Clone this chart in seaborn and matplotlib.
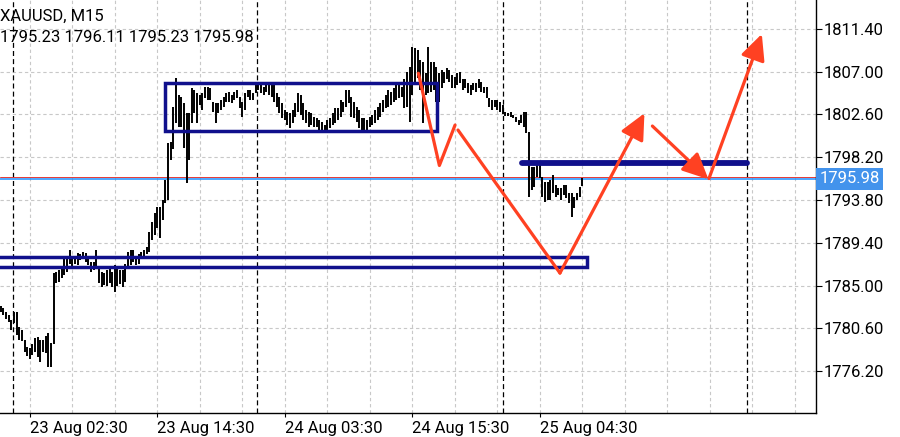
import numpy as np
import matplotlib
matplotlib.use("Agg")
import matplotlib.pyplot as plt
from matplotlib.patches import Rectangle
import seaborn as sns

# ---- data: XAUUSD M15 bars (high / low per bar) ----
highs = [
    1782.9, 1782.7, 1782.3, 1782.0, 1781.5, 1782.3, 1782.3, 1780.7, 1780.4, 1779.4,
    1778.7, 1778.6, 1779.0, 1779.6, 1779.7, 1779.4, 1779.4, 1779.8, 1780.1, 1779.1,
    1786.3, 1786.4, 1786.6, 1786.8, 1787.8, 1787.8, 1788.7, 1787.7, 1787.8, 1788.3,
    1788.2, 1788.4, 1788.3, 1788.0, 1787.4, 1787.4, 1788.7, 1787.0, 1786.4, 1786.3,
    1786.6, 1786.8, 1786.4, 1787.1, 1786.8, 1786.6, 1786.6, 1787.2, 1788.4, 1788.7,
    1788.7, 1788.0, 1788.2, 1788.4, 1788.7, 1789.0, 1790.5, 1791.5, 1792.5, 1793.1,
    1793.1, 1793.8, 1795.9, 1799.7, 1799.8, 1803.4, 1806.4, 1804.6, 1804.4, 1803.8,
    1802.8, 1802.8, 1805.3, 1805.1, 1804.8, 1804.6, 1804.8, 1805.4, 1805.4, 1805.3,
    1803.9, 1803.8, 1803.8, 1804.1, 1804.4, 1804.8, 1804.9, 1804.6, 1804.9, 1805.1,
    1804.4, 1803.9, 1804.8, 1805.1, 1805.1, 1804.8, 1805.6, 1805.8, 1805.8, 1805.4,
    1805.6, 1805.6, 1805.6, 1805.6, 1804.8, 1804.4, 1803.8, 1803.1, 1802.9, 1802.8,
    1803.1, 1803.8, 1804.8, 1804.6, 1803.8, 1803.1, 1802.9, 1802.8, 1802.3, 1802.2,
    1802.0, 1801.8, 1801.5, 1802.0, 1802.2, 1802.8, 1803.3, 1803.3, 1804.1, 1803.9,
    1805.1, 1805.1, 1804.4, 1803.9, 1803.4, 1803.1, 1802.2, 1802.2, 1802.0, 1802.3,
    1802.5, 1803.1, 1803.4, 1803.8, 1804.1, 1804.6, 1805.1, 1804.9, 1805.3, 1805.6,
    1805.8, 1805.4, 1806.2, 1807.0, 1807.5, 1809.5, 1809.4, 1809.2, 1808.2, 1808.0,
    1806.9, 1809.5, 1808.0, 1808.0, 1807.5, 1806.9, 1807.2, 1807.0, 1807.4, 1807.2,
    1806.7, 1806.5, 1806.9, 1807.0, 1806.3, 1806.2, 1805.8, 1805.6, 1805.8, 1805.8,
    1806.3, 1805.9, 1805.4, 1805.4, 1804.3, 1804.1, 1804.1, 1804.1, 1803.9, 1803.6,
    1802.9, 1802.8, 1802.9, 1802.5, 1802.3, 1802.0, 1802.5, 1802.9, 1802.9, 1800.8,
    1797.2, 1797.2, 1797.6, 1797.4, 1796.2, 1795.6, 1795.6, 1795.9, 1796.4, 1795.3,
    1795.0, 1795.0, 1795.3, 1795.3, 1794.5, 1794.5, 1794.1, 1794.5, 1795.1, 1796.11,
]
lows = [
    1782.3, 1782.0, 1781.6, 1781.2, 1780.4, 1781.1, 1779.9, 1779.4, 1779.3, 1778.2,
    1777.7, 1777.4, 1777.8, 1778.2, 1777.6, 1777.1, 1778.2, 1778.1, 1776.6, 1776.6,
    1779.0, 1785.3, 1785.4, 1785.8, 1786.1, 1786.4, 1787.2, 1787.0, 1787.2, 1787.1,
    1787.6, 1787.8, 1787.4, 1787.1, 1786.4, 1786.6, 1786.8, 1785.3, 1784.8, 1785.1,
    1784.9, 1785.3, 1784.8, 1784.3, 1784.9, 1785.2, 1784.8, 1785.4, 1786.8, 1787.1,
    1787.4, 1787.1, 1787.2, 1787.8, 1788.0, 1788.2, 1788.4, 1789.7, 1790.2, 1790.9,
    1789.9, 1791.7, 1793.5, 1793.8, 1797.9, 1799.0, 1801.7, 1801.3, 1801.3, 1799.2,
    1795.5, 1797.9, 1801.7, 1802.8, 1801.7, 1803.6, 1803.1, 1804.3, 1804.1, 1804.1,
    1802.9, 1801.7, 1802.8, 1803.1, 1803.4, 1803.9, 1803.9, 1803.8, 1804.1, 1804.3,
    1803.3, 1802.3, 1803.1, 1804.4, 1804.1, 1804.1, 1804.8, 1805.1, 1804.8, 1804.6,
    1804.9, 1804.6, 1804.4, 1803.9, 1803.4, 1802.8, 1802.2, 1802.0, 1801.5, 1801.2,
    1801.7, 1802.3, 1802.9, 1802.5, 1802.0, 1801.7, 1801.3, 1801.5, 1801.3, 1801.3,
    1801.0, 1800.8, 1800.8, 1801.0, 1801.2, 1801.5, 1801.7, 1802.0, 1802.3, 1802.9,
    1803.4, 1803.8, 1802.3, 1802.2, 1801.8, 1801.2, 1800.8, 1800.8, 1801.0, 1801.3,
    1801.5, 1801.7, 1802.0, 1802.3, 1802.9, 1803.3, 1803.4, 1803.6, 1803.9, 1804.1,
    1804.3, 1804.4, 1803.3, 1803.4, 1801.8, 1804.6, 1805.8, 1806.4, 1805.1, 1801.7,
    1804.6, 1804.8, 1804.9, 1805.1, 1803.9, 1803.9, 1805.3, 1805.8, 1806.2, 1805.9,
    1805.3, 1805.3, 1805.6, 1805.8, 1805.1, 1805.3, 1804.8, 1804.6, 1805.1, 1804.9,
    1805.3, 1804.9, 1804.8, 1804.3, 1803.4, 1803.1, 1803.4, 1803.1, 1802.9, 1802.7,
    1802.4, 1802.4, 1802.3, 1802.2, 1801.8, 1801.5, 1801.7, 1801.3, 1800.7, 1794.1,
    1794.8, 1795.1, 1796.2, 1796.1, 1794.1, 1793.6, 1793.8, 1793.8, 1794.5, 1794.1,
    1794.3, 1793.8, 1794.3, 1794.0, 1793.5, 1792.0, 1793.0, 1793.8, 1794.1, 1795.23,
]
bar_index = np.arange(len(highs))

symbol = "XAUUSD, M15"
last_ohlc = [1795.23, 1796.11, 1795.23, 1795.98]
bid = 1795.98
ask = 1796.12

price_ticks = [1776.20, 1780.60, 1785.00, 1789.40, 1793.80, 1798.20, 1802.60, 1807.00, 1811.40]
time_ticks = [11, 59, 107, 155, 203]
time_labels = ["23 Aug 02:30", "23 Aug 14:30", "24 Aug 03:30", "24 Aug 15:30", "25 Aug 04:30"]
day_breaks = [4.5, 96.5, 189.0, 281.0]
grid_start, grid_step = 11, 16

# drawn objects (bar index, price)
range_box = [61.9, 164.3, 1800.85, 1805.79]      # x0, x1, low, high
support_box = [-5.0, 220.7, 1786.87, 1787.96]
resist_x = [196.2, 280.9]
resist_y = [1797.63, 1797.63]
zigzag_x = [157.3, 165.2, 171.1]
zigzag_y = [1806.84, 1797.35, 1801.51]
leg_x = [172.2, 210.6]
leg_y = [1801.00, 1786.28]
arrows = [  # (start, tip)
    ((210.6, 1786.28), (242.4, 1802.72)),
    ((245.4, 1801.41), (266.5, 1795.93)),
    ((266.7, 1796.01), (286.6, 1810.88)),
]

NAVY = "#10108c"
RED = "#ff4122"
FS = 12

sns.set_theme(style="white")
plt.rcParams["font.family"] = ["Roboto", "DejaVu Sans"]

fig = plt.figure(figsize=(9, 4.37), dpi=100)
ax = fig.add_axes([0, 24 / 437, 816 / 900, 413 / 437])

ax.set_xlim(-0.23, 307.0)
ax.set_ylim(1771.88, 1814.38)

# grid
for p in price_ticks:
    ax.axhline(p, color="#c8c8c8", lw=0.8, dashes=(3, 2.5), zorder=0)
for g in range(grid_start, 308, grid_step):
    ax.axvline(g, color="#c8c8c8", lw=0.8, dashes=(3, 2.5), zorder=0)
for d in day_breaks:
    ax.axvline(d, color="black", lw=0.9, dashes=(4, 2.5), zorder=1)

# price bars
ax.vlines(bar_index, lows, highs, color="black", lw=1.4, zorder=3)

# bid / ask lines
ax.axhline(ask, color="#e53935", lw=0.7, zorder=2)
ax.axhline(bid, color="#1e90ff", lw=1.1, zorder=2)

# rectangles and levels
ax.add_patch(Rectangle((range_box[0], range_box[2]), range_box[1] - range_box[0],
                       range_box[3] - range_box[2], fill=False, ec=NAVY, lw=2.5, zorder=4))
ax.add_patch(Rectangle((support_box[0], support_box[2]), support_box[1] - support_box[0],
                       support_box[3] - support_box[2], fill=False, ec=NAVY, lw=2.5, zorder=4))
ax.plot(resist_x, resist_y, color=NAVY, lw=4.2, solid_capstyle="round", zorder=4)

# red projection path
sns.lineplot(x=zigzag_x, y=zigzag_y, sort=False, estimator=None, color=RED, lw=2.3, ax=ax, zorder=5)
sns.lineplot(x=leg_x, y=leg_y, sort=False, estimator=None, color=RED, lw=2.3, ax=ax, zorder=5)
for start, tip in arrows:
    ax.annotate("", xy=tip, xytext=start,
                arrowprops=dict(arrowstyle="-|>,head_length=1.05,head_width=0.5",
                                color=RED, lw=2.3, mutation_scale=15,
                                shrinkA=0, shrinkB=0),
                zorder=6)

# axes
for side in ["top", "left"]:
    ax.spines[side].set_visible(False)
for side in ["right", "bottom"]:
    ax.spines[side].set_color("black")
    ax.spines[side].set_linewidth(1.0)
ax.yaxis.tick_right()
ax.set_yticks(price_ticks)
ax.set_yticklabels([f"{p:.2f}" for p in price_ticks])
ax.set_xticks(time_ticks)
ax.set_xticklabels(time_labels)
for lab in ax.get_xticklabels():
    lab.set_ha("left")
ax.tick_params(axis="y", which="both", right=True, length=4, width=0.8, pad=1.5,
               labelsize=FS, colors="black")
ax.tick_params(axis="x", which="both", bottom=True, length=3, width=0.8, pad=2.5,
               labelsize=FS, colors="black")
ax.grid(False)

# current price tag
ax.text(1.004, bid, f"{bid:.2f}", transform=ax.get_yaxis_transform(),
        ha="left", va="center", color="white", fontsize=FS,
        bbox=dict(boxstyle="square,pad=0.2", fc="#4393ec", ec="none"),
        clip_on=False, zorder=10)

# header
fig.text(0.0, 1 - 20.5 / 437, symbol, fontsize=FS, color="black", va="baseline")
fig.text(0.0, 1 - 41.5 / 437, " ".join(f"{v:.2f}" for v in last_ohlc),
         fontsize=FS, color="black", va="baseline")

fig.savefig("out.png", dpi=100)
